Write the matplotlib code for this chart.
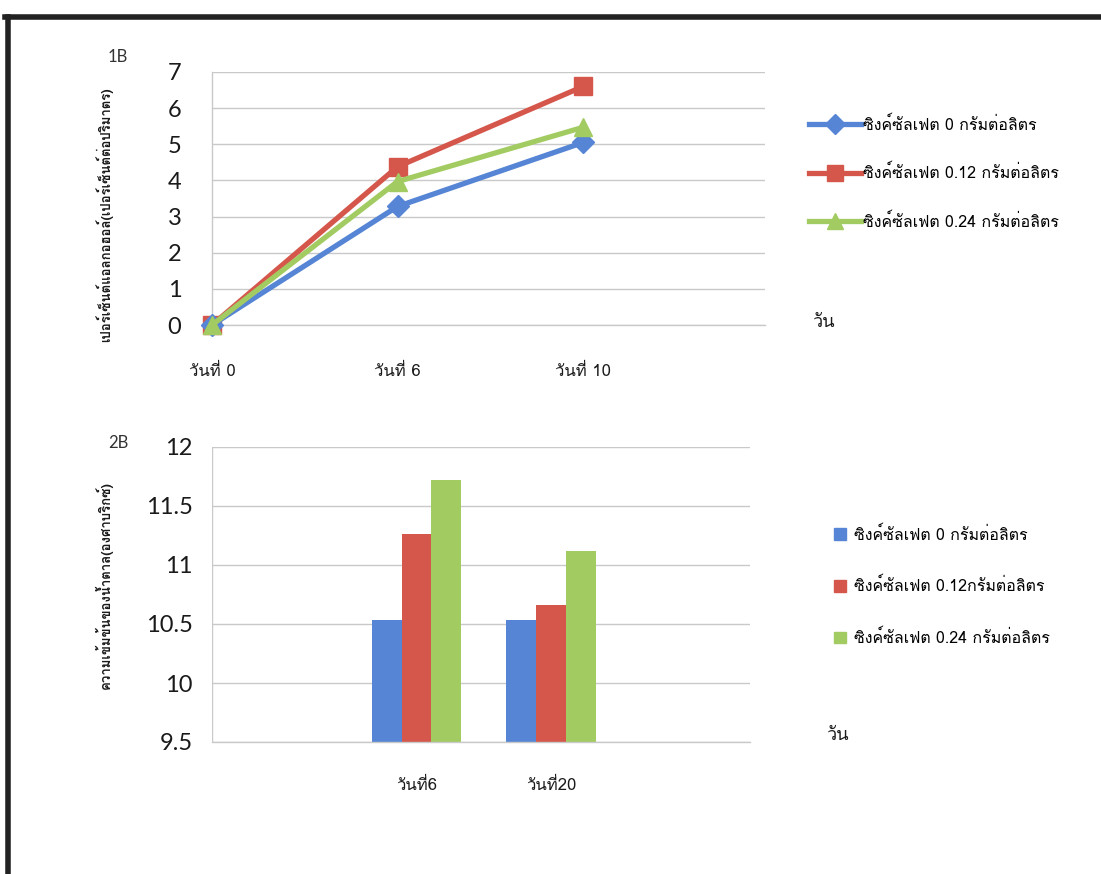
import matplotlib
matplotlib.use("Agg")
import matplotlib.pyplot as plt
from matplotlib import font_manager, ft2font
from matplotlib.lines import Line2D
from matplotlib.patches import Patch
import numpy as np

# ---- data ----
line_days = ["วันที่ 0", "วันที่ 6", "วันที่ 10"]
alcohol_zn0 = [0.0, 3.28, 5.05]
alcohol_zn012 = [0.0, 4.38, 6.60]
alcohol_zn024 = [0.0, 3.97, 5.47]

bar_days = ["วันที่6", "วันที่20"]
brix_zn0 = [10.53, 10.53]
brix_zn012 = [11.26, 10.66]
brix_zn024 = [11.72, 11.12]

series_line = ["ซิงค์ซัลเฟต 0 กรัมต่อลิตร",
               "ซิงค์ซัลเฟต 0.12 กรัมต่อลิตร",
               "ซิงค์ซัลเฟต 0.24 กรัมต่อลิตร"]
series_bar = ["ซิงค์ซัลเฟต 0 กรัมต่อลิตร",
              "ซิงค์ซัลเฟต 0.12กรัมต่อลิตร",
              "ซิงค์ซัลเฟต 0.24 กรัมต่อลิตร"]

ylabel_top = "เปอร์เซ็นต์แอลกอฮอล์(เปอร์เซ็นต์ต่อปริมาตร)"
ylabel_bottom = "ความเข้มข้นของน้ำตาล(องศาบริกซ์)"


def family_with(char):
    """Return the name of an installed family that covers the given character."""
    code = ord(char)
    for f in font_manager.fontManager.ttflist:
        try:
            if code in ft2font.FT2Font(f.fname).get_charmap():
                return f.name
        except Exception:
            continue
    return None


thai = family_with("ก")
thai_fams = [thai, "DejaVu Sans"] if thai else ["DejaVu Sans"]
num_font = ["Lato", "DejaVu Sans"]
plt.rcParams["font.family"] = thai_fams

BLUE, RED, GREEN = "#5585d4", "#d5574c", "#a2cb62"
GRID = "#c9c9c9"
TXT = "#1a1a1a"

W, H = 1101, 874
fig = plt.figure(figsize=(W / 100, H / 100), dpi=100)
fig.patch.set_facecolor("white")


def fx(px):
    return px / W


def fy(py):
    return 1 - py / H


def style_axes(ax):
    for s in ax.spines.values():
        s.set_visible(False)
    ax.yaxis.grid(True, color=GRID, lw=1.0)
    ax.set_axisbelow(True)
    ax.tick_params(axis="both", length=0)
    for lab in ax.get_yticklabels():
        lab.set_fontfamily(num_font)
        lab.set_fontsize(17)
        lab.set_color(TXT)
    for lab in ax.get_xticklabels():
        lab.set_fontsize(12)
        lab.set_color(TXT)


# ---- top: line chart ----
ax1 = fig.add_axes([fx(212), fy(325), fx(765 - 212), fy(72) - fy(325)])
x = np.arange(len(line_days))
ax1.plot(x, alcohol_zn0, color=BLUE, lw=3.8, marker="D", ms=11, zorder=3)
ax1.plot(x, alcohol_zn024, color=GREEN, lw=3.8, marker="^", ms=13, zorder=4)
ax1.plot(x, alcohol_zn012, color=RED, lw=3.8, marker="s", ms=13, zorder=2)
ax1.set_ylim(0, 7)
ax1.set_xlim(0, 2.98)
ax1.set_yticks(range(0, 8))
ax1.set_xticks(x)
ax1.set_xticklabels(line_days)
ax1.tick_params(axis="x", pad=28)
ax1.tick_params(axis="y", pad=22)
style_axes(ax1)
ax1.axvline(0, color=GRID, lw=1.0, zorder=0)
ax1.axhline(0, color=GRID, lw=1.0, zorder=0, clip_on=False)
ax1.set_ylabel(ylabel_top, fontsize=9.5, fontweight="bold", color=TXT)
ax1.yaxis.set_label_coords((113 - 212) / (765 - 212), 0.435)
for art in ax1.lines:
    art.set_clip_on(False)

handles_line = [
    Line2D([], [], color=BLUE, lw=3.8, marker="D", ms=10),
    Line2D([], [], color=RED, lw=3.8, marker="s", ms=12),
    Line2D([], [], color=GREEN, lw=3.8, marker="^", ms=12),
]
fig.legend(handles_line, series_line, loc="upper left",
           bbox_to_anchor=(fx(803), fy(110)), frameon=False,
           fontsize=11.5, handlelength=3.25, handletextpad=0.1,
           labelspacing=1.95, borderaxespad=0)

fig.text(fx(108), fy(57), "1B", fontsize=12, color="#333333", va="center",
         family=num_font)
fig.text(fx(812), fy(322), "วัน", fontsize=13, color=TXT, va="center")

# ---- bottom: column chart ----
ax2 = fig.add_axes([fx(212), fy(742), fx(750 - 212), fy(447) - fy(742)])
base = 9.5
bw = 0.222
xb = np.arange(1, len(bar_days) + 1)
for k, (vals, col) in enumerate([(brix_zn0, BLUE), (brix_zn012, RED), (brix_zn024, GREEN)]):
    heights = [v - base for v in vals]
    ax2.bar(xb + (k - 1) * bw, heights, width=bw, bottom=base, color=col, zorder=3)
ax2.set_xlim(-0.52, 3.48)
ax2.set_ylim(9.5, 12)
ax2.set_yticks([9.5, 10, 10.5, 11, 11.5, 12])
ax2.set_yticklabels(["9.5", "10", "10.5", "11", "11.5", "12"])
ax2.set_xticks(xb)
ax2.set_xticklabels(bar_days)
ax2.tick_params(axis="x", pad=26)
ax2.tick_params(axis="y", pad=14)
style_axes(ax2)
ax2.axvline(-0.52, color=GRID, lw=1.0, zorder=0)
ax2.axhline(9.5, color=GRID, lw=1.0, zorder=4, clip_on=False)
ax2.set_ylabel(ylabel_bottom, fontsize=9.5, fontweight="bold", color=TXT)
ax2.yaxis.set_label_coords((113 - 212) / (750 - 212), 0.532)

handles_bar = [Patch(color=BLUE), Patch(color=RED), Patch(color=GREEN)]
fig.legend(handles_bar, series_bar, loc="upper left",
           bbox_to_anchor=(fx(828), fy(520)), frameon=False,
           fontsize=11.5, handlelength=0.75, handleheight=0.75, handletextpad=0.45,
           labelspacing=2.15, borderaxespad=0)

fig.text(fx(108), fy(443), "2B", fontsize=12, color="#333333", va="center",
         family=num_font)
fig.text(fx(826), fy(735), "วัน", fontsize=13, color=TXT, va="center")

# ---- page frame ----
fig.add_artist(Line2D([fx(5), 1.0], [fy(17), fy(17)], color="#222222", lw=4,
                      transform=fig.transFigure))
fig.add_artist(Line2D([fx(8), fx(8)], [fy(17), 0.0], color="#222222", lw=4,
                      transform=fig.transFigure))

fig.savefig("out.png", dpi=100)
